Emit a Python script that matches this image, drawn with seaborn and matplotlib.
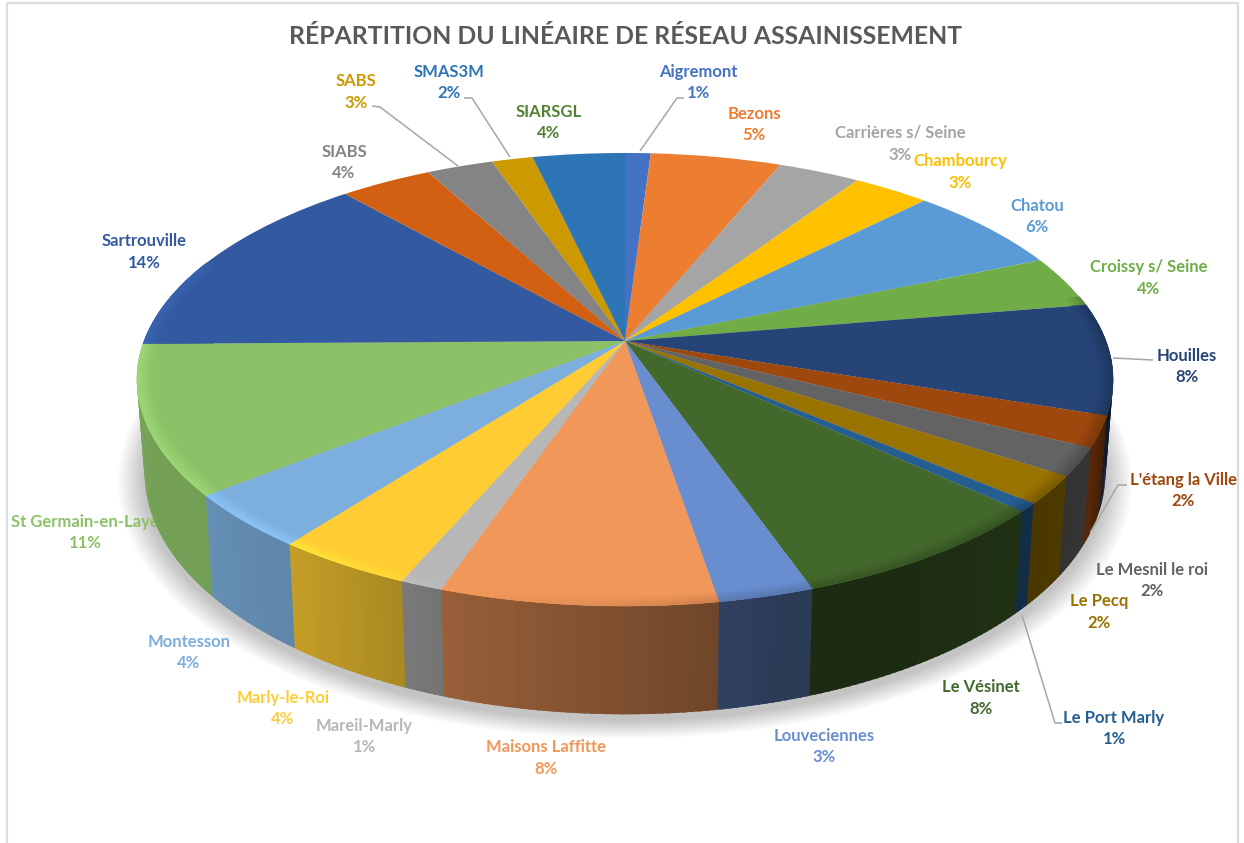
import numpy as np
import matplotlib
matplotlib.use("Agg")
import matplotlib.pyplot as plt
from matplotlib.collections import PolyCollection
from matplotlib.patches import Circle
from matplotlib.transforms import Transform
import matplotlib.colors as mc
import seaborn as sns

names = ["Aigremont", "Bezons", "Carrières s/ Seine", "Chambourcy", "Chatou", "Croissy s/ Seine",
         "Houilles", "L'étang la Ville", "Le Mesnil le roi", "Le Pecq", "Le Port Marly", "Le Vésinet",
         "Louveciennes", "Maisons Laffitte", "Mareil-Marly", "Marly-le-Roi", "Montesson",
         "St Germain-en-Laye", "Sartrouville", "SIABS", "SABS", "SMAS3M", "SIARSGL"]
values = [1.0, 5.1, 3.2, 3.0, 6.3, 3.7, 7.9, 2.2, 2.0, 2.0, 0.6, 7.7, 2.7, 7.8, 1.2, 3.9, 3.9,
          10.6, 13.8, 3.6, 2.6, 1.6, 3.6]
wedge_colors = ["#4472C4", "#ED7D31", "#A5A5A5", "#FFC000", "#5B9BD5", "#70AD47", "#264478", "#9E480E",
                "#636363", "#997300", "#255E91", "#43682B", "#698ED0", "#F1975A", "#B7B7B7", "#FFCD33",
                "#7CAFDD", "#8CC168", "#335AA1", "#D26012", "#848484", "#CC9A00", "#2E75B6"]
label_colors = wedge_colors[:19] + ["#848484", "#CC9A00", "#2E75B6", "#548235"]
label_x = [698, 754, 900, 960, 1037, 1149, 1187, 1183, 1152, 1099, 1114, 981, 824, 546, 364, 283, 189,
           85, 144, 344, 356, 449, 549]
label_y = [72, 114, 133, 161, 206, 267, 356, 480, 570, 601, 718, 687, 736, 747, 726, 698, 642,
           522, 241, 152, 81, 72, 112]
leaders = [[(1113, 358), (1153, 360)],
           [(1090, 533), (1118, 485), (1127, 485)],
           [(1022, 615), (1055, 723), (1062, 723)],
           [(372, 106), (380, 107), (458, 166)],
           [(464, 98), (472, 98), (510, 157)],
           [(684, 98), (677, 98), (640, 151)]]
title = "RÉPARTITION DU LINÉAIRE DE RÉSEAU ASSAINISSEMENT"

CX, CY, R, A, K = 625.0, 341.0, 481.0, 220.0, 0.17
XB, YB, DY = 0.984, 1.065, -91.0


def project(x, y, level=0.0):
    w = 1 + K * y
    X = R * x / w
    Y = A * y / w
    X = X * (1 + (XB - 1) * level)
    Y = Y * (1 + (YB - 1) * level) + DY * level
    return CX + X, CY - Y


class Persp(Transform):
    input_dims = output_dims = 2
    is_affine = False
    has_inverse = False

    def __init__(self, level=0.0):
        super().__init__()
        self.level = level

    def transform_non_affine(self, v):
        v = np.asarray(v, float)
        return np.column_stack(project(v[:, 0], v[:, 1], self.level))


sns.set_theme(style="white")
plt.rcParams["font.family"] = ["Lato", "DejaVu Sans"]
palette = sns.color_palette(wedge_colors)

fig = plt.figure(figsize=(12.44, 8.43), dpi=100, facecolor="white")
ax = fig.add_axes([0, 0, 1, 1])

# frame of the chart area
ax.plot([6.5, 6.5, 1238, 1238], [860, 3, 3, 860], color="#DCDCDC", lw=1.6, zorder=1)

# soft shadow under the disc
for s in np.linspace(1.05, 1.0, 12):
    shadow = Circle((0, -0.02), s, facecolor="#000000", edgecolor="none", alpha=0.018, zorder=2)
    ax.add_patch(shadow)
    shadow.set_transform(Persp(1.0) + ax.transData)

# labels
for n, v, c, x, y in zip(names, values, label_colors, label_x, label_y):
    ax.text(x, y, n, color=c, fontsize=12, fontweight="bold", ha="center", va="center", zorder=2.5)
    ax.text(x, y + 21.5, f"{round(v)}%", color=c, fontsize=12, fontweight="bold", ha="center",
            va="center", zorder=2.5)

# top surface
wedges, _ = ax.pie(values, colors=palette, startangle=90, counterclock=False, radius=1.0, frame=False)
top_t = Persp(0.0) + ax.transData
for w in wedges:
    w.set_transform(top_t)
    w.set_edgecolor("none")
    w.set_zorder(5)

ax.set_aspect("auto")
ax.set_xlim(0, 1244)
ax.set_ylim(843, 0)
ax.axis("off")

edges = np.concatenate([[0], np.cumsum(values)]) / np.sum(values) * 360.0


def polar(r, th):
    t = np.radians(th)
    return r * np.sin(t), r * np.cos(t)


wall_th = [80, 105, 115, 125, 133, 150, 165, 172, 200, 215, 232, 270, 290]
wall_f = [.25, .33, .55, .5, .48, .42, .42, .47, .64, .76, .82, .85, .85]
rim_th = [80, 130, 170, 200, 215, 270, 290]
rim_f = [.78, .78, .85, 1.03, 1.12, 1.12, 1.1]
rs = np.linspace(0.968, 1.0, 6)

wall_polys, wall_cols, rim_polys, rim_cols = [], [], [], []
for i in range(len(values)):
    a0, a1 = max(edges[i], 78), min(edges[i + 1], 292)
    if a1 <= a0:
        continue
    n = max(2, int((a1 - a0) / 0.8) + 2)
    ths = np.linspace(a0, a1, n)
    base = np.array(mc.to_rgb(palette[i]))
    for t0, t1 in zip(ths[:-1], ths[1:]):
        tm = (t0 + t1) / 2
        over = t1 + 0.5
        x0, y0 = polar(1.0, t0)
        x1, y1 = polar(1.0, over)
        wall_polys.append([project(x0, y0), project(x1, y1), project(x1, y1, 1.0), project(x0, y0, 1.0)])
        wall_cols.append(np.clip(base * np.interp(tm, wall_th, wall_f), 0, 1))
        target = np.clip(base * np.interp(tm, rim_th, rim_f), 0, 1)
        for k in range(len(rs) - 1):
            xa, ya = polar(rs[k], t0)
            xb, yb = polar(rs[k], t1)
            xc, yc = polar(rs[k + 1], t1)
            xd, yd = polar(rs[k + 1], t0)
            rim_polys.append([project(xa, ya), project(xb, yb), project(xc, yc), project(xd, yd)])
            f = (k + 0.5) / (len(rs) - 1)
            rim_cols.append(base + (target - base) * f)

ax.add_collection(PolyCollection(wall_polys, facecolors=wall_cols, edgecolors="none", zorder=4))
ax.add_collection(PolyCollection(rim_polys, facecolors=rim_cols, edgecolors=rim_cols, linewidths=0.3, zorder=6))

# leader lines
for seg in leaders:
    xs, ys = zip(*seg)
    ax.plot(xs, ys, color="#A6A6A6", lw=1.1, zorder=7, solid_capstyle="butt")

ax.text(625.5, 36, title, color="#595959", fontsize=17.8, fontweight="bold", ha="center", va="center", zorder=8)

fig.savefig("out.png", dpi=100, facecolor="white")
